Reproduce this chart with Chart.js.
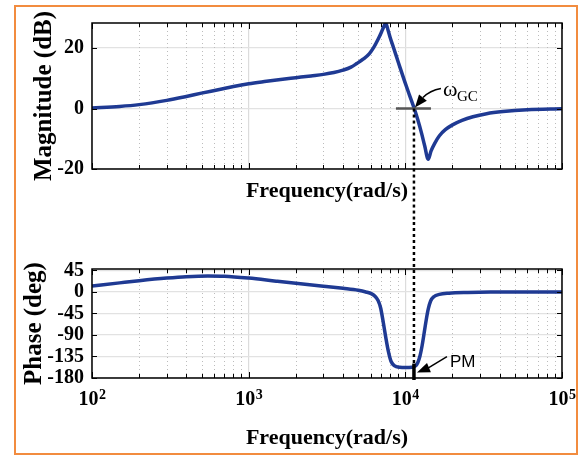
<!DOCTYPE html>
<html>
<head>
<meta charset="utf-8">
<script src="https://cdn.jsdelivr.net/npm/chart.js@4.4.0/dist/chart.umd.min.js"></script>
<style>
  body { margin: 0; background: #fff; }
  #wrap { position: relative; width: 582px; height: 456px; }
  #frame { position: absolute; left: 14px; top: 5px; width: 560px; height: 446px; border: 2px solid #f28c3f; }
  canvas { position: absolute; left: 0; }
  #magChart { top: 0; }
  #phaseChart { top: 222px; }
</style>
</head>
<body>
<div id="wrap">
  <div id="frame"></div>
  <canvas id="magChart" width="582" height="222"></canvas>
  <canvas id="phaseChart" width="582" height="234"></canvas>
</div>
<script>
// magnitude curve
const freqMag = [100, 150, 200, 300, 400, 500, 650, 800, 1000, 1300, 1600, 2000, 2500, 3000, 3500, 4000, 4500, 4900, 5400, 5900, 6300, 6700, 7000, 7250, 7500, 7750, 8000, 8400, 8800, 9300, 9900, 10600, 11400, 12000, 12700, 13300, 14000, 14600, 15400, 16500, 18000, 20000, 23000, 27000, 33000, 42000, 60000, 100000];
const magDb = [0.2, 0.7, 1.3, 2.7, 4.0, 5.1, 6.3, 7.3, 8.2, 9.0, 9.6, 10.2, 10.8, 11.3, 11.9, 12.7, 13.7, 14.9, 16.4, 18.2, 20.3, 22.9, 25.0, 26.8, 28.2, 26.0, 23.5, 20.2, 17.0, 13.2, 9.0, 4.6, 0, -3.6, -8.2, -12.4, -16.8, -14.0, -11.5, -9.0, -7.0, -5.4, -3.9, -2.7, -1.7, -1.0, -0.4, -0.1];

// phase curve
const freqPhase = [100, 150, 200, 300, 400, 550, 700, 1000, 1500, 2000, 3000, 4000, 5000, 5600, 6100, 6400, 6700, 6950, 7200, 7500, 7800, 8100, 8500, 9200, 10000, 11000, 11600, 12000, 12400, 12800, 13200, 13600, 14000, 14500, 15200, 16500, 19000, 25000, 35000, 100000];
const phaseDeg = [12.5, 19, 23.5, 29, 32, 33.5, 33, 29, 22.5, 18, 12, 7.5, 3.5, 0, -4, -9, -18, -33, -60, -95, -125, -145, -154, -157.5, -158, -157.5, -155, -148, -134, -112, -85, -58, -36, -19, -10, -5, -2.5, -1, -0.3, 0];

const magTicks = [-20, 0, 20];
const phaseTicks = [-180, -135, -90, -45, 0, 45];
const freqTicks = [100, 200, 300, 400, 500, 600, 700, 800, 900,
  1000, 2000, 3000, 4000, 5000, 6000, 7000, 8000, 9000,
  10000, 20000, 30000, 40000, 50000, 60000, 70000, 80000, 90000, 100000];
const decadeTicks = [100, 1000, 10000, 100000];

const gcFreq = 11350;   // gain crossover
const pmPhase = -156;   // phase at crossover

const serif = "'Liberation Serif', 'Times New Roman', serif";
const lineColor = '#1f3a93';
Chart.defaults.color = '#000';

function isDecade(v) {
  return decadeTicks.includes(v);
}

function segment(ctx, x1, y1, x2, y2) {
  ctx.beginPath();
  ctx.moveTo(x1, y1);
  ctx.lineTo(x2, y2);
  ctx.stroke();
}

function arrowHead(ctx, bx, by, tx, ty, half) {
  const dx = tx - bx, dy = ty - by;
  const len = Math.hypot(dx, dy);
  const nx = -dy / len, ny = dx / len;
  ctx.beginPath();
  ctx.moveTo(tx, ty);
  ctx.lineTo(bx + nx * half, by + ny * half);
  ctx.lineTo(bx - nx * half, by - ny * half);
  ctx.closePath();
  ctx.fill();
}

// minor dotted grid, inside ticks and the box
const boxPlugin = {
  id: 'box',
  beforeDatasetsDraw(chart) {
    const {ctx, chartArea: a, scales: {x}} = chart;
    ctx.save();
    ctx.strokeStyle = '#bcbcbc';
    ctx.lineWidth = 1;
    ctx.setLineDash([1, 3]);
    freqTicks.forEach(v => {
      if (isDecade(v)) return;
      const px = Math.round(x.getPixelForValue(v)) + 0.5;
      segment(ctx, px, a.top, px, a.bottom);
    });
    ctx.restore();
  },
  afterDatasetsDraw(chart) {
    const {ctx, chartArea: a, scales: {x, y}} = chart;
    ctx.save();
    ctx.strokeStyle = '#000';
    ctx.lineWidth = 1;
    freqTicks.forEach(v => {
      const px = Math.round(x.getPixelForValue(v)) + 0.5;
      const len = isDecade(v) ? 6 : 4;
      segment(ctx, px, a.bottom, px, a.bottom - len);
      segment(ctx, px, a.top, px, a.top + len);
    });
    y.ticks.forEach(t => {
      const py = Math.round(y.getPixelForValue(t.value)) + 0.5;
      segment(ctx, a.left, py, a.left + 5, py);
      segment(ctx, a.right, py, a.right - 5, py);
    });
    ctx.lineWidth = 1.5;
    ctx.strokeRect(a.left, a.top, a.right - a.left, a.bottom - a.top);
    ctx.restore();
  }
};

const gcPlugin = {
  id: 'gc',
  afterDatasetsDraw(chart) {
    const {ctx, scales: {x, y}} = chart;
    const px = x.getPixelForValue(gcFreq);
    const py = y.getPixelForValue(0);
    ctx.save();
    ctx.strokeStyle = '#555';
    ctx.lineWidth = 2.5;
    segment(ctx, px - 18, py, px + 17, py);

    ctx.strokeStyle = '#000';
    ctx.setLineDash([3, 3]);
    segment(ctx, px, py, px, chart.height);
    ctx.setLineDash([]);

    ctx.lineWidth = 1.5;
    ctx.beginPath();
    ctx.moveTo(px + 27, py - 20);
    ctx.quadraticCurveTo(px + 16, py - 18, px + 9, py - 11);
    ctx.stroke();
    ctx.fillStyle = '#000';
    arrowHead(ctx, px + 9, py - 11, px + 1, py - 1, 5);

    ctx.textBaseline = 'alphabetic';
    ctx.textAlign = 'left';
    ctx.font = '22px ' + serif;
    ctx.fillText('ω', px + 29, py - 13);
    ctx.font = '15px ' + serif;
    ctx.fillText('GC', px + 43, py - 8);
    ctx.restore();
  }
};

const pmPlugin = {
  id: 'pm',
  afterDatasetsDraw(chart) {
    const {ctx, chartArea: a, scales: {x, y}} = chart;
    const px = x.getPixelForValue(gcFreq);
    const py = y.getPixelForValue(pmPhase);
    ctx.save();
    ctx.strokeStyle = '#000';
    ctx.lineWidth = 2.5;
    ctx.setLineDash([3, 3]);
    segment(ctx, px, 0, px, py);
    ctx.setLineDash([]);

    ctx.lineWidth = 3.5;
    segment(ctx, px, py - 3, px, a.bottom + 2);

    ctx.lineWidth = 1.5;
    segment(ctx, px + 33, py - 10, px + 14, py + 1.5);
    ctx.fillStyle = '#000';
    arrowHead(ctx, px + 15, py + 1, px + 3, py + 6, 5);

    ctx.font = "17px 'Liberation Sans', Arial, sans-serif";
    ctx.textBaseline = 'alphabetic';
    ctx.fillText('PM', px + 36, py);
    ctx.restore();
  },
  afterDraw(chart) {
    const {ctx, chartArea: a, scales: {x}} = chart;
    ctx.save();
    ctx.fillStyle = '#000';
    ctx.textBaseline = 'alphabetic';
    ctx.textAlign = 'left';
    decadeTicks.forEach(v => {
      const exp = String(Math.round(Math.log10(v)));
      ctx.font = 'bold 20px ' + serif;
      const wb = ctx.measureText('10').width;
      ctx.font = 'bold 14px ' + serif;
      const we = ctx.measureText(exp).width;
      const left = x.getPixelForValue(v) - (wb + we) / 2;
      ctx.font = 'bold 20px ' + serif;
      ctx.fillText('10', left, a.bottom + 27);
      ctx.font = 'bold 14px ' + serif;
      ctx.fillText(exp, left + wb + 0.5, a.bottom + 21);
    });
    ctx.restore();
  }
};

function xScale(height) {
  return {
    type: 'logarithmic',
    min: 100,
    max: 100000,
    afterBuildTicks: s => { s.ticks = freqTicks.map(v => ({value: v})); },
    afterFit: s => { s.height = height; },
    ticks: {display: false, autoSkip: false},
    grid: {
      color: c => (c.tick && isDecade(c.tick.value)) ? '#dcdcdc' : 'rgba(0,0,0,0)',
      lineWidth: 1.2,
      drawTicks: false
    },
    border: {display: false},
    title: {
      display: true,
      text: 'Frequency(rad/s)',
      font: {family: serif, weight: 'bold', size: 22},
      padding: 0
    }
  };
}

function yScale(min, max, tickVals, label, titlePad) {
  return {
    min: min,
    max: max,
    afterBuildTicks: s => { s.ticks = tickVals.map(v => ({value: v})); },
    afterFit: s => { s.width = 92; },
    ticks: {font: {family: serif, weight: 'bold', size: 20}, padding: 8, autoSkip: false},
    grid: {color: '#e2e2e2', lineWidth: 1.2, drawTicks: false},
    border: {display: false},
    title: {
      display: true,
      text: label,
      font: {family: serif, weight: 'bold', size: 25},
      padding: {top: titlePad, bottom: 0}
    }
  };
}

function baseOptions(pad, xs, ys) {
  return {
    responsive: false,
    animation: false,
    layout: {padding: pad},
    plugins: {legend: {display: false}, tooltip: {enabled: false}},
    elements: {point: {radius: 0}},
    scales: {x: xs, y: ys}
  };
}

new Chart(document.getElementById('magChart'), {
  type: 'line',
  data: {
    datasets: [{
      data: freqMag.map((f, i) => ({x: f, y: magDb[i]})),
      borderColor: lineColor,
      borderWidth: 3.5,
      cubicInterpolationMode: 'monotone',
      fill: false
    }]
  },
  options: baseOptions({top: 23, right: 20, bottom: 17, left: 0},
    xScale(36), yScale(-20, 28.3, magTicks, 'Magnitude (dB)', 30)),
  plugins: [boxPlugin, gcPlugin]
});

new Chart(document.getElementById('phaseChart'), {
  type: 'line',
  data: {
    datasets: [{
      data: freqPhase.map((f, i) => ({x: f, y: phaseDeg[i]})),
      borderColor: lineColor,
      borderWidth: 3.5,
      cubicInterpolationMode: 'monotone',
      fill: false
    }]
  },
  options: baseOptions({top: 47, right: 20, bottom: 4, left: 0},
    xScale(74), yScale(-180, 48, phaseTicks, 'Phase (deg)', 20)),
  plugins: [boxPlugin, pmPlugin]
});
</script>
</body>
</html>
